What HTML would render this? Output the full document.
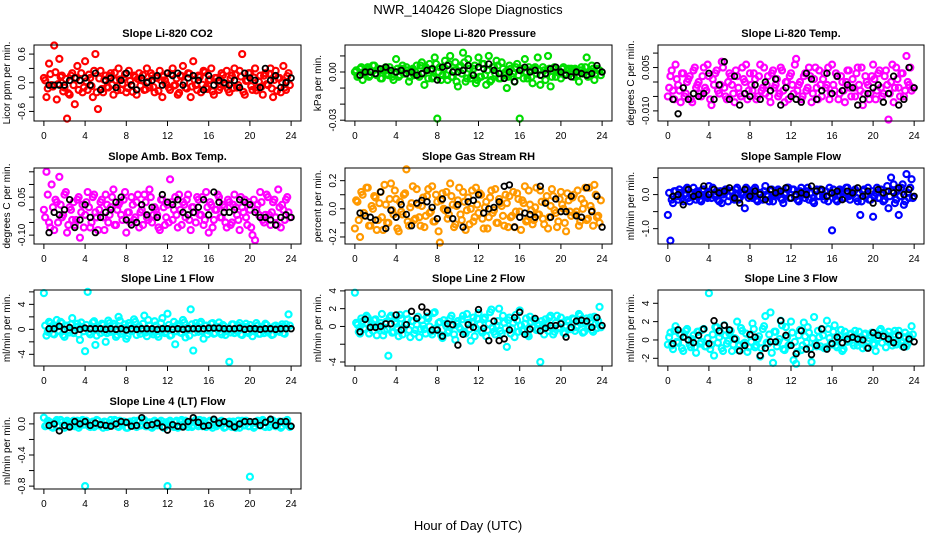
<!DOCTYPE html>
<html><head><meta charset="utf-8">
<style>
html,body{margin:0;padding:0;background:#fff;}
svg{display:block;font-family:"Liberation Sans",Arial,sans-serif;}
</style></head>
<body>
<svg id="chart" width="936" height="540" viewBox="0 0 936 540">
<text x="468" y="14" text-anchor="middle" font-size="13">NWR_140426  Slope Diagnostics</text>
<text x="468" y="530" text-anchor="middle" font-size="13">Hour of Day (UTC)</text>
</svg>
<script>
// shared hour categories
const colorHours = [0,0.25,0.5,0.75,1,1.25,1.5,1.75,2,2.25,2.5,2.75,3,3.25,3.5,3.75,4,4.25,4.5,4.75,5,5.25,5.5,5.75,6,6.25,6.5,6.75,7,7.25,7.5,7.75,8,8.25,8.5,8.75,9,9.25,9.5,9.75,10,10.25,10.5,10.75,11,11.25,11.5,11.75,12,12.25,12.5,12.75,13,13.25,13.5,13.75,14,14.25,14.5,14.75,15,15.25,15.5,15.75,16,16.25,16.5,16.75,17,17.25,17.5,17.75,18,18.25,18.5,18.75,19,19.25,19.5,19.75,20,20.25,20.5,20.75,21,21.25,21.5,21.75,22,22.25,22.5,22.75,23,23.25,23.5,23.75];
const colorHours2 = [0.125,0.375,0.625,0.875,1.125,1.375,1.625,1.875,2.125,2.375,2.625,2.875,3.125,3.375,3.625,3.875,4.125,4.375,4.625,4.875,5.125,5.375,5.625,5.875,6.125,6.375,6.625,6.875,7.125,7.375,7.625,7.875,8.125,8.375,8.625,8.875,9.125,9.375,9.625,9.875,10.125,10.375,10.625,10.875,11.125,11.375,11.625,11.875,12.125,12.375,12.625,12.875,13.125,13.375,13.625,13.875,14.125,14.375,14.625,14.875,15.125,15.375,15.625,15.875,16.125,16.375,16.625,16.875,17.125,17.375,17.625,17.875,18.125,18.375,18.625,18.875,19.125,19.375,19.625,19.875,20.125,20.375,20.625,20.875,21.125,21.375,21.625,21.875,22.125,22.375,22.625,22.875,23.125,23.375,23.625,23.875];
const blackHours = [0.5,1,1.5,2,2.5,3,3.5,4,4.5,5,5.5,6,6.5,7,7.5,8,8.5,9,9.5,10,10.5,11,11.5,12,12.5,13,13.5,14,14.5,15,15.5,16,16.5,17,17.5,18,18.5,19,19.5,20,20.5,21,21.5,22,22.5,23,23.5,24];
const xTicks = [0,4,8,12,16,20,24];

// panel values (integers in each panel's unit)
const co2Values = [10,-30,40,-5,78,-35,50,15,-10,-75,-25,20, -45,35,5,-20,45,-15,10,-30,60,-55,25,-20, 15,-10,20,-25,5,30,-15,10,-20,25,-5,15, -25,20,5,-15,30,-10,15,-20,10,25,-30,5, 20,-15,30,-5,-25,15,35,-10,20,-30,45,-5, 15,-20,25,-10,5,30,-25,10,-15,20,-5,25, -20,15,30,-10,25,60,-25,5,20,-15,30,-10, 15,-25,20,-5,30,-30,25,10,-20,35,-15,20];
const co2Values2 = [5,-12,18,-8,22,-3,12,-18,8,-22,15,-5, 10,-15,20,-10,3,17,-7,25,-20,9,-13,6, -9,14,-4,21,-16,7,-2,18,-11,4,-19,12, 8,-6,16,-14,2,20,-9,11,-17,5,13,-3, -10,18,-6,9,-21,14,1,-12,19,-8,6,-15, 12,-4,22,-13,7,-18,10,3,-9,16,-2,-14, 9,-11,17,-5,13,-19,4,20,-7,11,-16,2, -8,15,-3,19,-12,6,-17,10,1,-10,14,-5];
const co2Black = [-5,-5,-5,-5,5,10,5,10,-5,20,-15,5,10,-10,5,20,-5,-15,10,0,5,15,-5,20,15,20,-5,10,15,5,-15,15,-5,5,0,-5,5,-10,20,10,5,-10,30,5,15,-10,0,10];
const presValues = [0,-3,2,-5,1,3,-2,4,-1,2,-4,1, 3,-2,0,-5,8,-3,2,-1,3,-6,1,-2, 4,-3,6,-8,2,5,-4,9,-29,3,-2,7, -5,10,-3,6,-9,4,12,-6,8,-4,2,-7, 9,-3,5,-8,10,-5,3,7,-4,6,-2,-10, 4,-3,-6,5,-29,2,8,-4,1,-7,3,9, -8,3,-5,10,-9,2,-3,1,-4,3,-1,2, 2,-3,1,-6,3,0,9,-2,4,-5,2,1];
const presValues2 = [1,-2,3,-1,2,-3,0,4,-2,1,-4,2, -1,3,-3,0,2,-2,4,-1,1,-3,2,0, -2,4,-1,3,-4,1,-3,5,0,-5,2,-2, 5,-3,1,-6,3,-1,6,-4,2,-2,4,-5, -3,5,-2,1,-6,3,-1,4,-4,2,0,-3, 2,-1,3,-2,1,-4,0,3,-3,2,-1,1, -2,1,-1,2,-3,3,0,-1,2,-2,1,-1, 0,2,-2,1,-1,3,-3,0,2,-1,1,-2];
const presBlack = [-2,0,0,-1,2,3,1,0,1,-1,0,-2,-1,1,2,-5,3,4,0,0,1,4,-2,3,2,5,1,-1,-4,0,-6,1,3,0,1,-2,-1,2,3,0,-2,-3,0,-1,-2,-1,4,0];
const tempValues = [-5,2,-3,6,-1,-7,3,-4,1,-6,4,-2, 0,-5,5,-3,2,-8,-1,4,-4,7,-2,-6, 3,-1,-7,2,-4,5,0,-6,3,-3,1,-5, 6,-2,-4,2,-7,4,-1,-5,5,-3,0,-6, 3,-4,8,-1,-6,2,-3,5,-7,1,-2,4, -5,3,-1,-6,6,-3,2,-4,0,-7,4,-2, 1,-5,5,-3,-8,2,-1,-4,6,-6,3,-2, -4,4,-13,0,-7,5,-2,3,-5,9,-1,-3];
const tempValues2 = [-2,4,-6,1,-3,3,-5,0,2,-7,5,-1, -4,2,-2,6,-6,1,3,-3,-1,5,-5,0, 2,-4,4,-2,-5,1,6,-3,-1,3,-6,2, -3,5,-1,-5,3,-2,1,-4,4,-7,0,2, -1,6,-3,0,-5,3,-2,2,-4,5,-6,-1, 1,-2,5,-4,-1,3,-6,2,-3,0,4,-5, -2,3,-1,5,-4,0,-6,2,1,-3,4,-5, 2,-1,-4,6,-2,1,-5,3,-3,0,5,-2];
const tempBlack = [-6,-11,-2,-6,-4,-5,-4,3,-6,-1,7,-6,2,-8,-4,-5,-1,-6,0,-3,1,-8,-2,-5,-6,-7,3,1,-6,-3,3,-4,2,-3,-1,-2,-8,-6,-4,-2,-1,-7,-4,2,-8,-6,5,-2];
const ambValues = [0,15,-5,10,-8,3,13,-3,6,-9,1,-4, -6,4,-11,2,-2,7,-7,5,-1,-8,3,-3, 6,-5,1,8,-6,2,-2,4,-9,-1,5,-4, 3,-7,0,6,-3,8,-5,1,-2,-8,4,-6, 2,12,-4,5,-7,0,3,-3,6,-8,1,-5, 4,-2,-6,7,-9,2,-4,0,5,-3,1,-7, 3,-5,6,-2,-8,1,4,-6,0,-10,-12,2, 7,-4,-2,5,-6,3,-3,8,-7,0,4,-1];
const ambValues2 = [-3,6,-7,1,4,-5,2,-2,7,-6,0,3, -4,5,-1,-7,3,1,-5,6,-3,0,4,-8, 2,-2,5,-6,0,3,-4,7,-1,-5,2,-3, 6,-1,-6,3,-4,5,-2,0,-7,4,1,-3, -5,3,0,-2,6,-6,2,4,-4,1,-1,5, -2,5,-4,1,3,-7,0,6,-3,2,-5,4, -6,2,1,-4,5,-1,-3,3,-7,4,0,-2, 3,-5,6,-2,-1,4,-6,1,2,-4,5,-3];
const ambBlack = [-9,-1,-2,0,4,-7,-4,2,-3,-9,-3,-1,0,3,5,-4,-6,-5,2,-2,1,-3,6,3,2,4,-1,-2,-1,1,4,-2,7,3,-1,-1,0,4,3,2,-1,-3,-3,-4,-6,-3,-2,-3];
const rhValues = [-14,5,-20,10,-5,15,-12,0,8,-8,12,-15, 3,-10,18,-4,7,-16,-2,10,28,-12,4,-8, 14,-6,2,-13,9,-3,16,-9,5,-24,11,-1, -7,18,3,-11,6,-4,12,-15,8,0,-9,15, -3,10,-14,5,-6,13,-1,-10,7,2,-12,4, 9,-5,-13,11,-2,6,16,-8,3,-11,1,-4, 13,-7,5,-14,2,9,-3,-9,12,0,-16,6, -5,10,-2,-12,7,4,-8,15,-1,17,-6,-10];
const rhValues2 = [6,-8,12,-3,15,-12,2,9,-15,4,-6,17, -10,7,-1,13,-14,5,-4,11,-9,1,16,-7, 3,-12,8,-5,14,-2,-9,10,-16,6,0,12, -4,9,-13,2,15,-8,5,-1,-11,13,-6,3, 11,-7,1,-14,8,-3,14,-10,4,-5,10,-13, -6,12,-2,7,-15,4,-9,13,-1,-8,15,-4, 5,-11,9,-6,14,-1,-13,7,3,-10,11,-2, 8,-4,13,-9,0,15,-7,2,-12,10,-5,6];
const rhBlack = [-3,-5,-6,-8,12,-14,-1,-6,3,-4,-12,4,6,5,1,-7,7,-1,-7,3,-13,5,6,10,-3,0,1,5,16,17,-13,-6,-3,-4,-6,16,4,-6,7,-2,-2,9,-5,-6,15,-2,9,-13];
const sfValues = [-60,-135,-25,10,-15,5,-20,15,-10,0,20,-15, 5,-20,15,-5,25,-10,0,10,-20,-25,5,15, -5,10,-15,20,-10,5,-40,15,0,-10,20,-20, 5,-15,25,-5,10,-20,0,15,-10,-25,5,20, -10,15,-5,-20,20,0,10,-15,5,-25,15,-5, 10,-15,-5,20,-105,0,-20,15,5,-10,20,-15, 0,15,-20,-60,10,-5,20,-15,-65,5,-10,15, -20,10,-40,50,30,-15,-60,20,-30,60,-10,45];
const sfValues2 = [5,-15,10,-5,15,-10,0,20,-20,5,-5,10, -15,15,0,-10,5,20,-5,-15,10,0,15,-20, 10,-5,15,-15,5,0,20,-10,-5,15,-15,5, -10,10,0,-20,15,-5,5,10,-15,0,20,-10, 15,-5,-15,10,0,-10,20,5,-20,10,-5,15, -5,10,-20,5,15,-15,0,10,-10,20,-5,0, 10,-10,5,-20,15,0,-15,10,-5,20,-10,5, -15,25,-5,10,-25,15,-5,30,-20,5,20,-10];
const sfBlack = [-5,0,-30,15,-5,0,25,0,15,5,10,20,-10,-25,15,-5,10,0,-15,15,5,10,20,-10,0,5,0,25,10,15,-5,5,10,-15,10,5,20,-5,10,-25,15,5,10,5,20,0,15,-5];
const l1Values = [58,-10,12,5,-8,15,-3,10,-12,6,-5,18, -2,9,-17,4,-35,60,-8,11,-25,3,-6,7, -20,14,-4,9,-12,20,-7,2,-15,10,-3,16, -9,5,-2,22,-11,6,-4,13,-8,1,18,-6, 25,-10,4,-24,8,-5,15,-13,3,32,-34,10, -4,12,-15,6,-2,9,-7,3,11,-8,5,-3, -52,8,-6,2,10,-9,4,-3,7,-11,1,6, -7,3,9,-5,2,-8,6,-2,4,-6,8,24];
const l1Values2 = [6,-4,10,-7,3,-2,12,-9,5,-1,8,-6, 4,-8,11,-3,7,-5,0,13,-10,2,9,-4, -6,10,-2,5,-9,14,-3,8,-11,6,-1,12, 3,-7,9,-5,15,-2,-8,6,-12,10,0,-4, 7,-9,12,-3,5,-6,11,-1,-10,8,-5,4, 9,-3,6,-8,2,10,-6,4,-4,7,-9,1, -5,8,-2,6,-8,3,9,-6,1,-3,10,-7, 4,-6,7,-1,-9,5,2,-4,8,-7,3,6];
const l1Black = [1,1,5,0,3,-2,0,2,1,1,1,0,1,0,1,-1,1,0,1,1,1,0,1,1,0,1,0,1,1,1,1,2,2,2,1,1,1,2,0,1,1,0,1,1,0,1,1,1];
const l2Values = [38,2,-8,6,-3,10,0,-5,8,-2,4,-10, 5,-33,12,-6,3,-11,9,-2,14,-4,6,-8, 2,-12,7,-3,11,0,-9,16,-4,5,-13,3, -7,9,1,-15,6,-3,12,-8,4,-16,10,-2, 15,-5,8,-11,3,19,-6,1,20,-8,4,-23, 10,-2,-12,7,18,-5,3,-9,11,-1,6,-3, -40,2,8,-5,12,-9,4,-2,10,-7,1,5, -3,8,-1,14,3,-6,9,0,-4,11,-2,22];
const l2Values2 = [4,-6,9,-2,12,-8,3,7,-10,1,14,-5, -3,10,-7,5,-1,13,-9,2,8,-12,6,-4, 11,-3,1,-8,9,-6,15,-2,4,-10,7,0, -5,12,-9,3,-1,8,-6,14,-3,5,-11,9, 2,-7,10,-4,16,-1,-9,6,-5,12,-2,7, -8,4,13,-6,1,-3,9,-11,5,8,-4,2, 6,-9,3,10,-2,-6,12,-1,4,-8,7,-3, 9,-5,1,12,-7,4,-2,10,-6,3,6,-1];
const l2Black = [-6,8,-1,-1,0,3,3,13,-4,2,17,9,22,16,-4,-4,-11,3,2,-21,-9,2,-1,19,-2,-16,6,-16,-14,-4,10,16,-9,-3,9,-5,-2,1,1,3,-12,-1,6,7,6,-1,10,1];
const l3Values = [-5,8,-10,15,-3,6,-12,10,0,-8,5,-14, 9,-2,12,-7,51,-5,-17,14,3,-9,16,-4, 7,-12,2,20,-6,10,-3,-13,5,18,-8,1, -18,12,26,-4,30,-25,9,-2,21,-10,14,-6, 20,-22,-26,5,-11,19,-3,8,-24,25,-7,3, 12,-9,21,2,-5,16,-8,4,-12,9,-2,6, -3,10,-6,3,-9,7,-1,5,-4,-12,2,12, 4,-8,9,-2,6,-5,10,-1,3,-7,5,15];
const l3Values2 = [3,-6,10,-2,7,-9,4,12,-5,1,-8,9, -4,11,-7,2,-10,6,14,-3,8,-12,5,-1, 10,-5,1,-11,13,-4,7,-8,-2,12,-6,4, -9,15,-3,6,-14,9,-7,1,16,-11,3,-5, 8,-2,-13,11,-6,4,14,-9,2,-4,10,-7, 5,-8,12,-3,9,-6,1,11,-10,4,-1,7, -6,3,9,-4,6,-8,2,8,-5,0,10,-3, 7,-1,4,-6,10,-2,5,-7,8,-4,2,6];
const l3Black = [-4,11,3,0,-3,5,12,-4,21,10,16,11,1,-12,-6,6,3,-17,-9,-2,-2,21,5,-6,-15,10,-10,-16,-6,12,-10,-4,3,-3,1,3,1,0,-9,8,5,4,1,-3,5,-8,1,-2];
const l4Values = [8,-2,3,-4,1,5,-3,2,-5,4,-1,3, -3,4,-2,5,-80,1,-4,3,-2,4,-1,-5, 2,-3,5,-1,4,-4,1,3,-5,2,-2,4, -4,3,-1,5,-3,2,-5,4,-2,1,3,-4, -80,4,-3,2,-5,3,-1,4,-4,2,-2,5, -3,1,4,-4,2,-2,5,-3,1,4,-5,2, 3,-4,1,-2,-5,4,-2,3,-68,1,-3,4, -2,5,-4,2,-1,4,-3,1,-5,3,2,-2];
const l4Values2 = [-3,4,1,-5,3,-2,5,-4,2,0,-3,4, 2,-5,3,-1,4,-3,1,-4,5,-2,0,3, -4,1,-2,5,-3,4,-1,2,-5,3,0,-2, 4,-2,5,-3,1,-4,3,0,-1,4,-5,2, 3,-1,-4,4,-2,5,-3,1,0,-4,3,-1, 5,-3,1,-2,4,-5,2,-1,3,0,-4,1, -1,3,-5,4,0,-2,4,-3,2,-5,1,3, 4,-3,2,-4,5,-1,-2,3,-3,1,5,-4];
const l4Black = [-2,0,-9,-2,-4,3,0,3,-2,1,-1,-2,-3,0,3,2,-3,-2,8,-2,-1,1,-4,-8,-1,-3,-4,3,8,2,-3,-2,6,1,3,0,-4,0,3,3,3,-2,2,6,-2,3,3,-3];

// y-axis ticks and labels per panel
const co2Ticks = [-0.6,-0.3,0,0.3,0.6];           const co2Labels = ["-0.6","","0.0","","0.6"];
const presTicks = [-0.03,-0.02,-0.01,0,0.01];     const presLabels = ["-0.03","","","0.00",""];
const tempTicks = [-0.01,-0.005,0,0.005,0.01];    const tempLabels = ["-0.010","","","0.005",""];
const ambTicks = [-0.1,-0.05,0,0.05,0.1,0.15];    const ambLabels = ["-0.10","","","0.05","",""];
const rhTicks = [-0.2,-0.1,0,0.1,0.2];            const rhLabels = ["-0.2","","0.0","","0.2"];
const sfTicks = [-1,-0.5,0,0.5];                  const sfLabels = ["-1.0","","0.0",""];
const l1Ticks = [-4,-2,0,2,4,6];                  const l1Labels = ["-4","","0","","4",""];
const l2Ticks = [-4,-2,0,2,4];                    const l2Labels = ["-4","","0","2","4"];
const l3Ticks = [-2,0,2,4];                       const l3Labels = ["-2","0","2","4"];
const l4Ticks = [-0.8,-0.6,-0.4,-0.2,0];          const l4Labels = ["-0.8","","-0.4","","0.0"];

const cols = [{l:34,r:301},{l:345,r:612},{l:658,r:924}];
const rows = [45,168,290,413];
const H = 76;

const panels = [
 {name:'co2',title:'Slope Li-820 CO2',ylab:'Licor ppm per min.',c:0,r:0,unit:0.01,vals:co2Values,vals2:co2Values2,blk:co2Black,ticks:co2Ticks,labels:co2Labels,ymin:-0.8,ymax:0.79,color:'#ff0000'},
 {name:'pressure',title:'Slope Li-820 Pressure',ylab:'kPa per min.',c:1,r:0,unit:0.001,vals:presValues,vals2:presValues2,blk:presBlack,ticks:presTicks,labels:presLabels,ymin:-0.0305,ymax:0.0168,color:'#00dd00'},
 {name:'temp',title:'Slope Li-820 Temp.',ylab:'degrees C per min.',c:2,r:0,unit:0.001,vals:tempValues,vals2:tempValues2,blk:tempBlack,ticks:tempTicks,labels:tempLabels,ymin:-0.0135,ymax:0.0128,color:'#ff00ff'},
 {name:'amb-box-temp',title:'Slope Amb. Box Temp.',ylab:'degrees C per min.',c:0,r:1,unit:0.01,vals:ambValues,vals2:ambValues2,blk:ambBlack,ticks:ambTicks,labels:ambLabels,ymin:-0.135,ymax:0.165,color:'#ff00ff'},
 {name:'gas-stream-rh',title:'Slope Gas Stream RH',ylab:'percent per min.',c:1,r:1,unit:0.01,vals:rhValues,vals2:rhValues2,blk:rhBlack,ticks:rhTicks,labels:rhLabels,ymin:-0.25,ymax:0.29,color:'#ff9900'},
 {name:'sample-flow',title:'Slope Sample Flow',ylab:'ml/min per min.',c:2,r:1,unit:0.01,vals:sfValues,vals2:sfValues2,blk:sfBlack,ticks:sfTicks,labels:sfLabels,ymin:-1.45,ymax:0.78,color:'#0000ff'},
 {name:'line1-flow',title:'Slope Line 1 Flow',ylab:'ml/min per min.',c:0,r:2,unit:0.1,vals:l1Values,vals2:l1Values2,blk:l1Black,ticks:l1Ticks,labels:l1Labels,ymin:-5.87,ymax:6.3,color:'#00ffff'},
 {name:'line2-flow',title:'Slope Line 2 Flow',ylab:'ml/min per min.',c:1,r:2,unit:0.1,vals:l2Values,vals2:l2Values2,blk:l2Black,ticks:l2Ticks,labels:l2Labels,ymin:-4.45,ymax:4.1,color:'#00ffff'},
 {name:'line3-flow',title:'Slope Line 3 Flow',ylab:'ml/min per min.',c:2,r:2,unit:0.1,vals:l3Values,vals2:l3Values2,blk:l3Black,ticks:l3Ticks,labels:l3Labels,ymin:-2.84,ymax:5.45,color:'#00ffff'},
 {name:'line4-flow',title:'Slope Line 4 (LT) Flow',ylab:'ml/min per min.',c:0,r:3,unit:0.01,vals:l4Values,vals2:l4Values2,blk:l4Black,ticks:l4Ticks,labels:l4Labels,ymin:-0.837,ymax:0.14,color:'#00ffff'}
];

const NS='http://www.w3.org/2000/svg';
const svg=document.getElementById('chart');
function mk(tag,attrs,parent,text){const e=document.createElementNS(NS,tag);for(const k in attrs)e.setAttribute(k,attrs[k]);if(text!==undefined)e.textContent=text;parent.appendChild(e);return e;}

panels.forEach(p=>{
  const L=cols[p.c].l, R=cols[p.c].r, T=rows[p.r], B=T+H;
  const xs=h=>L+(h+0.96)/25.92*(R-L);
  const ys=v=>B-(v-p.ymin)/(p.ymax-p.ymin)*H;
  const g=mk('g',{},svg);
  
  
  const t=mk('text',{x:(L+R)/2,y:T-8,'text-anchor':'middle','font-size':11,'font-weight':'bold'},g,p.title);
  
  
  const pts=mk('g',{},g);
  
  
  const n2=Math.min(colorHours2.length,p.vals2.length);
  for(let i=0;i<n2;i++){
    const c=mk('circle',{cx:xs(colorHours2[i]),cy:ys(p.vals2[i]*p.unit),r:3,fill:'none',stroke:p.color,'stroke-width':2.2},pts);
    
    
  }
  const n=Math.min(colorHours.length,p.vals.length);
  for(let i=0;i<n;i++){
    const c=mk('circle',{cx:xs(colorHours[i]),cy:ys(p.vals[i]*p.unit),r:3,fill:'none',stroke:p.color,'stroke-width':2.2},pts);
    
    
  }
  const nb=Math.min(blackHours.length,p.blk.length);
  for(let i=0;i<nb;i++){
    const c=mk('circle',{cx:xs(blackHours[i]),cy:ys(p.blk[i]*p.unit),r:2.8,fill:'none',stroke:'#000','stroke-width':1.8},pts);
    
    
  }
  const box=mk('rect',{x:L,y:T,width:R-L,height:H,fill:'none',stroke:'#000','stroke-width':1},g);
  
  
  xTicks.forEach(h=>{
    const x=xs(h);
    mk('line',{x1:x,x2:x,y1:B,y2:B+5,stroke:'#000'},g);
    const tl=mk('text',{x:x,y:B+18,'text-anchor':'middle','font-size':10},g,String(h));
    
    
  });
  p.ticks.forEach((v,i)=>{
    const y=ys(v);
    mk('line',{x1:L-5,x2:L,y1:y,y2:y,stroke:'#000'},g);
    if(p.labels[i]){
      const tl=mk('text',{x:L-9,y:y,'text-anchor':'middle','font-size':10,transform:`rotate(-90 ${L-9} ${y})`},g,p.labels[i]);
      
      
    }
  });
  const yl=mk('text',{x:L-24,y:(T+B)/2,'text-anchor':'middle','font-size':10,transform:`rotate(-90 ${L-24} ${(T+B)/2})`},g,p.ylab);
  
  
});
</script>
</body></html>
